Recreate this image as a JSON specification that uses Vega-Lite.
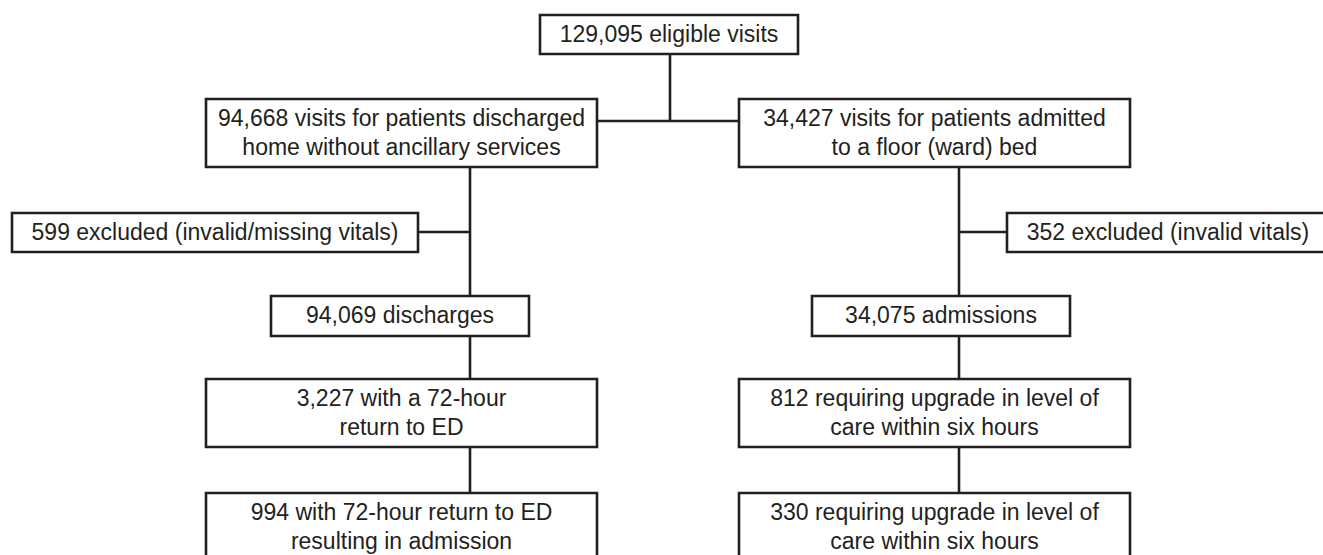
{
  "$schema": "https://vega.github.io/schema/vega-lite/v6.json",
  "width": 1323,
  "height": 555,
  "padding": 0,
  "autosize": {"type": "fit", "contains": "padding"},
  "background": "white",
  "config": {"view": {"stroke": null}},
  "datasets": {
    "boxes": [
      {"id": "A", "x1": 540, "x2": 798, "y1": 15, "y2": 54},
      {"id": "B", "x1": 206, "x2": 597, "y1": 99, "y2": 167},
      {"id": "C", "x1": 739, "x2": 1130, "y1": 99, "y2": 167},
      {"id": "D", "x1": 12, "x2": 418, "y1": 213, "y2": 252},
      {"id": "E", "x1": 1007, "x2": 1330, "y1": 213, "y2": 252},
      {"id": "F", "x1": 271, "x2": 529, "y1": 296, "y2": 336},
      {"id": "G", "x1": 812, "x2": 1070, "y1": 296, "y2": 336},
      {"id": "H", "x1": 206, "x2": 597, "y1": 379, "y2": 447},
      {"id": "I", "x1": 739, "x2": 1130, "y1": 379, "y2": 447},
      {"id": "J", "x1": 206, "x2": 597, "y1": 493, "y2": 561},
      {"id": "K", "x1": 739, "x2": 1130, "y1": 493, "y2": 561}
    ],
    "links": [
      {"x1": 670, "x2": 670, "y1": 54, "y2": 121},
      {"x1": 597, "x2": 739, "y1": 121, "y2": 121},
      {"x1": 470, "x2": 470, "y1": 167, "y2": 296},
      {"x1": 418, "x2": 470, "y1": 232, "y2": 232},
      {"x1": 959, "x2": 959, "y1": 167, "y2": 296},
      {"x1": 959, "x2": 1007, "y1": 232, "y2": 232},
      {"x1": 470, "x2": 470, "y1": 336, "y2": 379},
      {"x1": 470, "x2": 470, "y1": 447, "y2": 493},
      {"x1": 959, "x2": 959, "y1": 336, "y2": 379},
      {"x1": 959, "x2": 959, "y1": 447, "y2": 493}
    ],
    "labels": [
      {"t": "129,095 eligible visits", "x": 669, "y": 35},
      {"t": "94,668 visits for patients discharged", "x": 401.5, "y": 118.5},
      {"t": "home without ancillary services", "x": 401.5, "y": 147.5},
      {"t": "34,427 visits for patients admitted", "x": 934.5, "y": 118.5},
      {"t": "to a floor (ward) bed", "x": 934.5, "y": 147.5},
      {"t": "599 excluded (invalid/missing vitals)", "x": 215, "y": 233},
      {"t": "352 excluded (invalid vitals)", "x": 1168, "y": 233},
      {"t": "94,069 discharges", "x": 400, "y": 316},
      {"t": "34,075 admissions", "x": 941, "y": 316},
      {"t": "3,227 with a 72-hour", "x": 401.5, "y": 398.5},
      {"t": "return to ED", "x": 401.5, "y": 427.5},
      {"t": "812 requiring upgrade in level of", "x": 934.5, "y": 398.5},
      {"t": "care within six hours", "x": 934.5, "y": 427.5},
      {"t": "994 with 72-hour return to ED", "x": 401.5, "y": 512.5},
      {"t": "resulting in admission", "x": 401.5, "y": 541.5},
      {"t": "330 requiring upgrade in level of", "x": 934.5, "y": 512.5},
      {"t": "care within six hours", "x": 934.5, "y": 541.5}
    ]
  },
  "layer": [
    {
      "data": {"name": "links"},
      "mark": {"type": "rule", "stroke": "#231f20", "strokeWidth": 2.6, "clip": true},
      "encoding": {
        "x": {"field": "x1", "type": "quantitative", "scale": {"domain": [0, 1323], "nice": false, "zero": false}, "axis": null},
        "x2": {"field": "x2"},
        "y": {"field": "y1", "type": "quantitative", "scale": {"domain": [0, 555], "nice": false, "zero": false, "reverse": true}, "axis": null},
        "y2": {"field": "y2"}
      }
    },
    {
      "data": {"name": "boxes"},
      "mark": {"type": "rect", "fill": "white", "stroke": "#231f20", "strokeWidth": 2.6, "clip": true},
      "encoding": {
        "x": {"field": "x1", "type": "quantitative", "scale": {"domain": [0, 1323], "nice": false, "zero": false}, "axis": null},
        "x2": {"field": "x2"},
        "y": {"field": "y1", "type": "quantitative", "scale": {"domain": [0, 555], "nice": false, "zero": false, "reverse": true}, "axis": null},
        "y2": {"field": "y2"}
      }
    },
    {
      "data": {"name": "labels"},
      "mark": {"type": "text", "font": "Liberation Sans", "fontSize": 23, "fill": "#231f20", "align": "center", "baseline": "middle", "clip": true},
      "encoding": {
        "x": {"field": "x", "type": "quantitative", "scale": {"domain": [0, 1323], "nice": false, "zero": false}, "axis": null},
        "y": {"field": "y", "type": "quantitative", "scale": {"domain": [0, 555], "nice": false, "zero": false, "reverse": true}, "axis": null},
        "text": {"field": "t"}
      }
    }
  ]
}
